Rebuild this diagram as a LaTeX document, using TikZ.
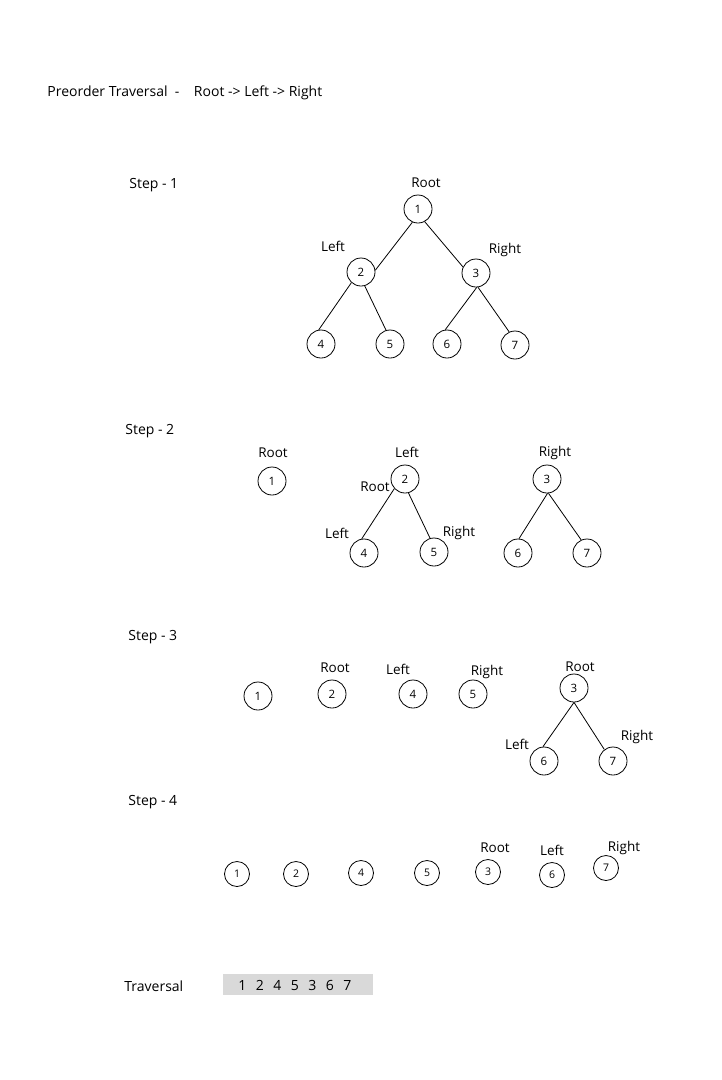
\documentclass[tikz,border=0pt]{standalone}
\usepackage{fontspec}
\setmainfont{Open Sans}
\usetikzlibrary{positioning}

\newcommand{\gp}{\hspace{9.5pt}}

\begin{document}
\begin{tikzpicture}[x=1pt, y=-1pt, line width=0.8pt,
    vert/.style={circle, draw, minimum size=28pt, inner sep=0pt, font=\fontsize{11.5}{12}\selectfont},
    small/.style={vert, minimum size=25pt, font=\fontsize{10.5}{11}\selectfont},
    lbl/.style={inner sep=0pt, font=\fontsize{13.5}{15}\selectfont},
    head/.style={inner sep=0pt, anchor=west, font=\fontsize{14}{16}\selectfont}]
    \useasboundingbox (0,0) rectangle (721,1080);

    \node[head]   (title)  at (47,93)   {Preorder Traversal\ \ -\ \ \ \ Root -> Left -> Right};

    % step 1
    \node[head]   (step1)  at (129,185) {Step - 1};
    \node[vert]   (a1)     at (418,209) {1};
    \node[vert]   (a2)     at (361,272) {2};
    \node[vert]   (a3)     at (476,273) {3};
    \node[vert]   (a4)     at (321,344) {4};
    \node[vert]   (a5)     at (390,344) {5};
    \node[vert]   (a6)     at (447,344) {6};
    \node[vert]   (a7)     at (515,345) {7};
    \node[lbl]    (a1r)    at (426,183) {Root};
    \node[lbl]    (a2l)    at (333,246) {Left};
    \node[lbl]    (a3r)    at (505,250) {Right};
    \path   (a1.247) edge (a2.7)
            (a1.298) edge (a3.155)
            (a2.228) edge (a4.99)
            (a2.285) edge (a5.106)
            (a3.273) edge (a6.97)
            (a3.278) edge (a7.114);

    % step 2
    \node[head]   (step2)  at (125,431) {Step - 2};
    \node[vert]   (b1)     at (272,481) {1};
    \node[vert]   (b2)     at (405,479) {2};
    \node[vert]   (b4)     at (364,553) {4};
    \node[vert]   (b5)     at (434,552) {5};
    \node[vert]   (b3)     at (547,479) {3};
    \node[vert]   (b6)     at (518,553) {6};
    \node[vert]   (b7)     at (587,553) {7};
    \node[lbl]    (b1r)    at (273,453) {Root};
    \node[lbl]    (b2l)    at (407,452) {Left};
    \node[lbl]    (b2r)    at (375,487) {Root};
    \node[lbl]    (b4l)    at (337,533) {Left};
    \node[lbl]    (b5r)    at (459,533) {Right};
    \node[lbl]    (b3r)    at (555,453) {Right};
    \path   (b2.222) edge (b4.99)
            (b2.284) edge (b5.106)
            (b3.272) edge (b6.86)
            (b3.276) edge (b7.114);

    % step 3
    \node[head]   (step3)  at (128,637) {Step - 3};
    \node[vert]   (c1)     at (258,696) {1};
    \node[vert]   (c2)     at (332,694) {2};
    \node[vert]   (c4)     at (413,694) {4};
    \node[vert]   (c5)     at (473,694) {5};
    \node[vert]   (c3)     at (574,688) {3};
    \node[vert]   (c6)     at (544,761) {6};
    \node[vert]   (c7)     at (613,761) {7};
    \node[lbl]    (c2r)    at (335,668) {Root};
    \node[lbl]    (c4l)    at (398,669) {Left};
    \node[lbl]    (c5r)    at (487,672) {Right};
    \node[lbl]    (c3r)    at (580,667) {Root};
    \node[lbl]    (c6l)    at (517,744) {Left};
    \node[lbl]    (c7r)    at (637,737) {Right};
    \path   (c3.270) edge (c6.94)
            (c3.270) edge (c7.127);

    % step 4
    \node[head]   (step4)  at (128,802) {Step - 4};
    \node[small]  (d1)     at (237,874) {1};
    \node[small]  (d2)     at (296,874) {2};
    \node[small]  (d4)     at (361,873) {4};
    \node[small]  (d5)     at (427,873) {5};
    \node[small]  (d3)     at (488,872) {3};
    \node[small]  (d6)     at (552,875) {6};
    \node[small]  (d7)     at (606,868) {7};
    \node[lbl]    (d3r)    at (495,848) {Root};
    \node[lbl]    (d6l)    at (552,850) {Left};
    \node[lbl]    (d7r)    at (624,848) {Right};

    % result
    \node[head]   (trav)   at (124,986) {Traversal};
    \node[fill={rgb,255:red,217;green,217;blue,217}, minimum width=150pt, minimum height=21pt, inner sep=0pt] (seq) at (298,984.5) {};
    \node[head]   (seqt)   at (238,985) {1\gp 2\gp 4\gp 5\gp 3\gp 6\gp 7};
\end{tikzpicture}
\end{document}
